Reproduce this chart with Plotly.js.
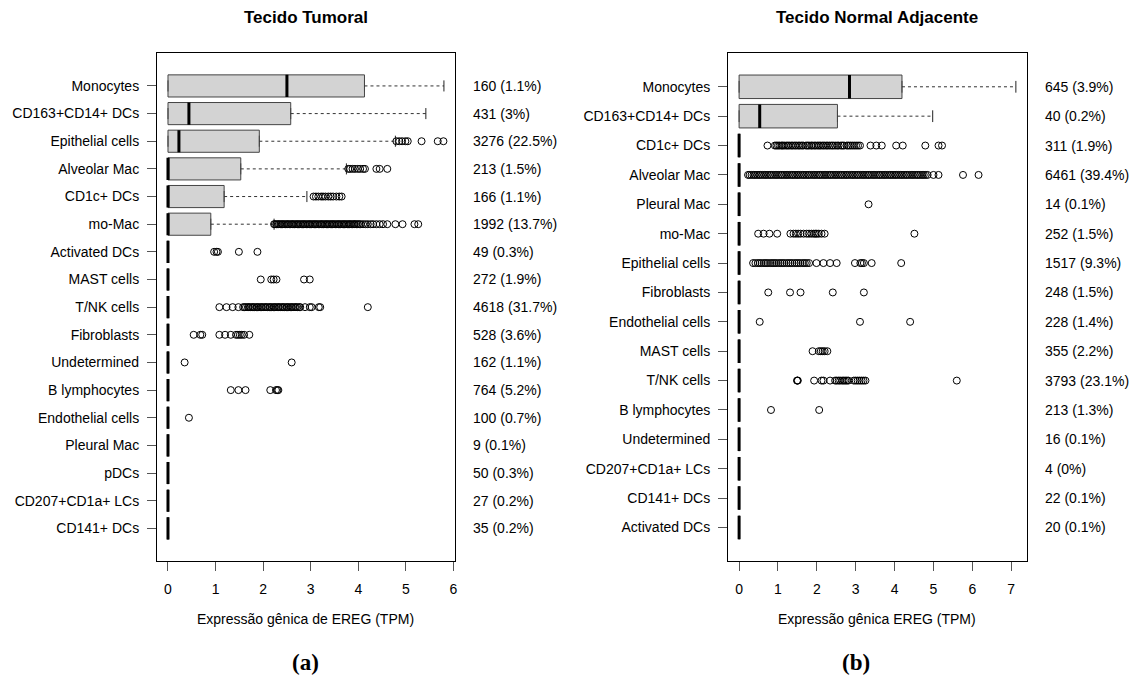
<!DOCTYPE html>
<html>
<head>
<meta charset="utf-8">
<script src="https://cdn.plot.ly/plotly-3.0.1.min.js"></script>
<style>html,body{margin:0;padding:0;background:#fff;}#chart{width:1134px;height:679px;}</style>
</head>
<body>
<div id="chart"></div>
<script>
// ---------- Panel (a): Tecido Tumoral ----------
const catsT = ["Monocytes","CD163+CD14+ DCs","Epithelial cells","Alveolar Mac","CD1c+ DCs","mo-Mac","Activated DCs","MAST cells","T/NK cells","Fibroblasts","Undetermined","B lymphocytes","Endothelial cells","Pleural Mac","pDCs","CD207+CD1a+ LCs","CD141+ DCs"];
const q1T     = [0,0,0,0,0,0,0,0,0,0,0,0,0,0,0,0,0];
const medT    = [2.50,0.44,0.23,0,0,0,0,0,0,0,0,0,0,0,0,0,0];
const q3T     = [4.13,2.58,1.92,1.53,1.18,0.90,0,0,0,0,0,0,0,0,0,0,0];
const capT    = [5.80,5.42,4.78,3.75,2.92,2.23,0,0,0,0,0,0,0,0,0,0,0];
const countsT = ["160 (1.1%)","431 (3%)","3276 (22.5%)","213 (1.5%)","166 (1.1%)","1992 (13.7%)","49 (0.3%)","272 (1.9%)","4618 (31.7%)","528 (3.6%)","162 (1.1%)","764 (5.2%)","100 (0.7%)","9 (0.1%)","50 (0.3%)","27 (0.2%)","35 (0.2%)"];
const outT = {
  "Epithelial cells": [4.80,4.86,4.92,4.99,5.04,5.33,5.67,5.79],
  "Alveolar Mac": [3.79,3.83,3.88,3.93,3.99,4.04,4.10,4.14,4.38,4.45,4.61],
  "CD1c+ DCs": [3.06,3.11,3.16,3.22,3.26,3.31,3.37,3.42,3.47,3.54,3.60,3.65],
  "mo-Mac": [2.23,2.25,2.28,2.31,2.33,2.36,2.39,2.41,2.44,2.47,2.50,2.52,2.55,2.58,2.61,2.63,2.66,2.69,2.72,2.74,2.77,2.80,2.83,2.85,2.88,2.91,2.94,2.97,2.99,3.02,3.05,3.08,3.10,3.13,3.16,3.19,3.22,3.24,3.27,3.30,3.33,3.35,3.38,3.41,3.44,3.46,3.49,3.52,3.55,3.58,3.60,3.63,3.66,3.69,3.71,3.74,3.77,3.80,3.82,3.85,3.88,3.91,3.93,3.96,3.99,4.02,4.05,4.10,4.15,4.20,4.26,4.31,4.38,4.45,4.52,4.61,4.78,4.93,5.18,5.26],
  "Activated DCs": [0.97,1.02,1.05,1.49,1.88],
  "MAST cells": [1.95,2.17,2.22,2.28,2.86,2.98],
  "T/NK cells": [1.08,1.23,1.36,1.48,1.58,1.61,1.64,1.68,1.70,1.73,1.77,1.79,1.82,1.86,1.88,1.91,1.95,1.97,2.00,2.04,2.06,2.09,2.13,2.15,2.18,2.22,2.24,2.27,2.31,2.33,2.36,2.40,2.42,2.45,2.49,2.51,2.54,2.58,2.60,2.63,2.67,2.69,2.72,2.76,2.78,2.88,2.98,3.02,3.17,3.20,4.20],
  "Fibroblasts": [0.54,0.68,0.72,1.08,1.20,1.32,1.43,1.47,1.51,1.55,1.60,1.71],
  "Undetermined": [0.35,2.60],
  "B lymphocytes": [1.32,1.48,1.63,2.15,2.27,2.30,2.32],
  "Endothelial cells": [0.44]
};

// ---------- Panel (b): Tecido Normal Adjacente ----------
const catsN = ["Monocytes","CD163+CD14+ DCs","CD1c+ DCs","Alveolar Mac","Pleural Mac","mo-Mac","Epithelial cells","Fibroblasts","Endothelial cells","MAST cells","T/NK cells","B lymphocytes","Undetermined","CD207+CD1a+ LCs","CD141+ DCs","Activated DCs"];
const q1N     = [0,0,0,0,0,0,0,0,0,0,0,0,0,0,0,0];
const medN    = [2.84,0.53,0,0,0,0,0,0,0,0,0,0,0,0,0,0];
const q3N     = [4.19,2.53,0,0,0,0,0,0,0,0,0,0,0,0,0,0];
const capN    = [7.12,4.98,0,0,0,0,0,0,0,0,0,0,0,0,0,0];
const countsN = ["645 (3.9%)","40 (0.2%)","311 (1.9%)","6461 (39.4%)","14 (0.1%)","252 (1.5%)","1517 (9.3%)","248 (1.5%)","228 (1.4%)","355 (2.2%)","3793 (23.1%)","213 (1.3%)","16 (0.1%)","4 (0%)","22 (0.1%)","20 (0.1%)"];
const outN = {
  "CD1c+ DCs": [0.73,0.92,0.96,1.00,1.04,1.09,1.12,1.16,1.21,1.25,1.29,1.34,1.38,1.43,1.47,1.52,1.56,1.61,1.65,1.72,1.76,1.80,1.85,1.88,1.93,1.97,2.02,2.06,2.10,2.15,2.19,2.24,2.28,2.33,2.38,2.42,2.47,2.52,2.56,2.62,2.66,2.70,2.77,2.81,2.86,2.91,2.96,3.01,3.06,3.11,3.38,3.53,3.67,4.04,4.21,4.79,5.13,5.22],
  "Alveolar Mac": [0.23,0.27,0.32,0.37,0.41,0.46,0.51,0.55,0.60,0.65,0.69,0.74,0.79,0.83,0.88,0.93,0.97,1.02,1.07,1.11,1.16,1.21,1.25,1.30,1.35,1.39,1.44,1.49,1.53,1.58,1.63,1.67,1.72,1.77,1.81,1.86,1.91,1.95,2.00,2.05,2.09,2.14,2.19,2.23,2.28,2.33,2.37,2.42,2.47,2.51,2.56,2.61,2.65,2.70,2.75,2.79,2.84,2.89,2.93,2.98,3.03,3.07,3.12,3.17,3.21,3.26,3.31,3.35,3.40,3.45,3.49,3.54,3.59,3.63,3.68,3.73,3.77,3.82,3.87,3.91,3.96,4.01,4.05,4.10,4.15,4.19,4.24,4.29,4.33,4.38,4.43,4.47,4.52,4.57,4.61,4.66,4.71,4.75,4.80,4.85,5.00,5.13,5.76,6.16],
  "Pleural Mac": [3.33],
  "mo-Mac": [0.49,0.63,0.78,0.98,1.32,1.40,1.46,1.52,1.58,1.66,1.74,1.80,1.86,1.92,1.96,2.00,2.05,2.12,2.20,4.51],
  "Epithelial cells": [0.36,0.42,0.48,0.53,0.58,0.64,0.69,0.74,0.80,0.85,0.90,0.95,1.01,1.06,1.11,1.16,1.22,1.27,1.32,1.37,1.43,1.48,1.53,1.58,1.64,1.69,1.74,1.80,1.99,2.17,2.34,2.51,2.98,3.12,3.16,3.21,3.41,4.17],
  "Fibroblasts": [0.75,1.31,1.58,2.41,3.21],
  "Endothelial cells": [0.53,3.11,4.40],
  "MAST cells": [1.89,2.05,2.10,2.15,2.20,2.27],
  "T/NK cells": [1.49,1.50,1.51,1.93,2.12,2.17,2.34,2.47,2.51,2.56,2.60,2.65,2.69,2.73,2.77,2.81,2.95,3.00,3.05,3.10,3.15,3.20,3.25,5.60],
  "B lymphocytes": [0.82,2.06]
};

const FONT = "Liberation Sans, Arial, sans-serif";
const BOXFILL = "#D3D3D3";
const EDGE = "#444444";

function buildPanel(cats, q1, med, q3, cap, outs, xa, ya) {
  const N = cats.length;
  const pos = cats.map((c, i) => N - i);
  const traces = [];
  traces.push({
    type: "box", orientation: "h", xaxis: xa, yaxis: ya,
    y: pos, q1: q1, median: med, q3: q3, lowerfence: q1, upperfence: q3,
    width: 0.8, fillcolor: BOXFILL, line: {color: EDGE, width: 1},
    boxpoints: false, hoverinfo: "skip", showlegend: false
  });
  const wx = [], wy = [], cx = [], cy = [];
  for (let i = 0; i < N; i++) {
    if (cap[i] > q3[i]) {
      wx.push(q3[i], cap[i], null); wy.push(pos[i], pos[i], null);
      cx.push(cap[i], cap[i], null); cy.push(pos[i] - 0.2, pos[i] + 0.2, null);
    }
  }
  traces.push({type: "scatter", mode: "lines", xaxis: xa, yaxis: ya, x: wx, y: wy,
    line: {color: "#333", width: 1, dash: "3px,3px"}, hoverinfo: "skip", showlegend: false});
  traces.push({type: "scatter", mode: "lines", xaxis: xa, yaxis: ya, x: cx, y: cy,
    line: {color: "#222", width: 1}, hoverinfo: "skip", showlegend: false});
  const mx = [], my = [];
  for (let i = 0; i < N; i++) {
    mx.push(med[i], med[i], null); my.push(pos[i] - 0.4, pos[i] + 0.4, null);
  }
  traces.push({type: "scatter", mode: "lines", xaxis: xa, yaxis: ya, x: mx, y: my,
    line: {color: "#000", width: 3}, hoverinfo: "skip", showlegend: false});
  const ox = [], oy = [];
  cats.forEach((c, i) => {
    (outs[c] || []).forEach(v => { ox.push(v); oy.push(pos[i]); });
  });
  traces.push({type: "scatter", mode: "markers", xaxis: xa, yaxis: ya, x: ox, y: oy,
    marker: {symbol: "circle-open", size: 7, color: "#000", line: {width: 1, color: "#000"}},
    hoverinfo: "skip", showlegend: false});
  return traces;
}

const data = [].concat(
  buildPanel(catsT, q1T, medT, q3T, capT, outT, "x", "y"),
  buildPanel(catsN, q1N, medN, q3N, capN, outN, "x2", "y2")
);

const NT = catsT.length, NN = catsN.length;
const axBase = {
  showline: true, mirror: true, linecolor: "#000", linewidth: 1,
  showgrid: false, zeroline: false, ticks: "outside", ticklen: 9, tickwidth: 1,
  tickcolor: "#555", tickfont: {family: FONT, size: 14, color: "#000"}, fixedrange: true
};
const yDom = [0.1738, 0.9215];

const annotations = [];
catsT.forEach((c, i) => annotations.push({xref: "x domain", yref: "y", x: 1.055, y: NT - i, xanchor: "left", yanchor: "middle",
  text: countsT[i], showarrow: false, font: {family: FONT, size: 14, color: "#000"}}));
catsN.forEach((c, i) => annotations.push({xref: "x2 domain", yref: "y2", x: 1.055, y: NN - i, xanchor: "left", yanchor: "middle",
  text: countsN[i], showarrow: false, font: {family: FONT, size: 14, color: "#000"}}));
annotations.push({xref: "x domain", yref: "paper", x: 0.5, y: 0.9735, xanchor: "center", yanchor: "middle",
  text: "<b>Tecido Tumoral</b>", showarrow: false, font: {family: FONT, size: 17, color: "#000"}});
annotations.push({xref: "x2 domain", yref: "paper", x: 0.5, y: 0.9735, xanchor: "center", yanchor: "middle",
  text: "<b>Tecido Normal Adjacente</b>", showarrow: false, font: {family: FONT, size: 17, color: "#000"}});
annotations.push({xref: "x domain", yref: "paper", x: 0.5, y: 0.0884, xanchor: "center", yanchor: "middle",
  text: "Expressão gênica de EREG (TPM)", showarrow: false, font: {family: FONT, size: 14, color: "#000"}});
annotations.push({xref: "x2 domain", yref: "paper", x: 0.5, y: 0.0884, xanchor: "center", yanchor: "middle",
  text: "Expressão gênica EREG (TPM)", showarrow: false, font: {family: FONT, size: 14, color: "#000"}});
annotations.push({xref: "paper", yref: "paper", x: 0.269, y: 0.0236, xanchor: "center", yanchor: "middle",
  text: "<b>(a)</b>", showarrow: false, font: {family: "Liberation Serif, serif", size: 23, color: "#000"}});
annotations.push({xref: "paper", yref: "paper", x: 0.7549, y: 0.0236, xanchor: "center", yanchor: "middle",
  text: "<b>(b)</b>", showarrow: false, font: {family: "Liberation Serif, serif", size: 23, color: "#000"}});

const layout = {
  width: 1134, height: 679,
  margin: {l: 0, r: 0, t: 0, b: 0},
  paper_bgcolor: "#fff", plot_bgcolor: "#fff",
  showlegend: false,
  font: {family: FONT, size: 14, color: "#000"},
  xaxis: Object.assign({}, axBase, {domain: [0.1384, 0.4012], range: [-0.232, 6.032], anchor: "y",
    tickvals: [0,1,2,3,4,5,6], ticklabelstandoff: 6}),
  yaxis: Object.assign({}, axBase, {domain: yDom, range: [0.5 - 0.04 * NT, NT + 0.5 + 0.04 * NT], anchor: "x",
    tickvals: catsT.map((c, i) => NT - i), ticktext: catsT, ticklabelstandoff: 5}),
  xaxis2: Object.assign({}, axBase, {domain: [0.6420, 0.9056], range: [-0.285, 7.405], anchor: "y2",
    tickvals: [0,1,2,3,4,5,6,7], ticklabelstandoff: 6}),
  yaxis2: Object.assign({}, axBase, {domain: yDom, range: [0.5 - 0.04 * NN, NN + 0.5 + 0.04 * NN], anchor: "x2",
    tickvals: catsN.map((c, i) => NN - i), ticktext: catsN, ticklabelstandoff: 5}),
  annotations: annotations
};

Plotly.newPlot("chart", data, layout, {staticPlot: true, displayModeBar: false});
</script>
</body>
</html>
